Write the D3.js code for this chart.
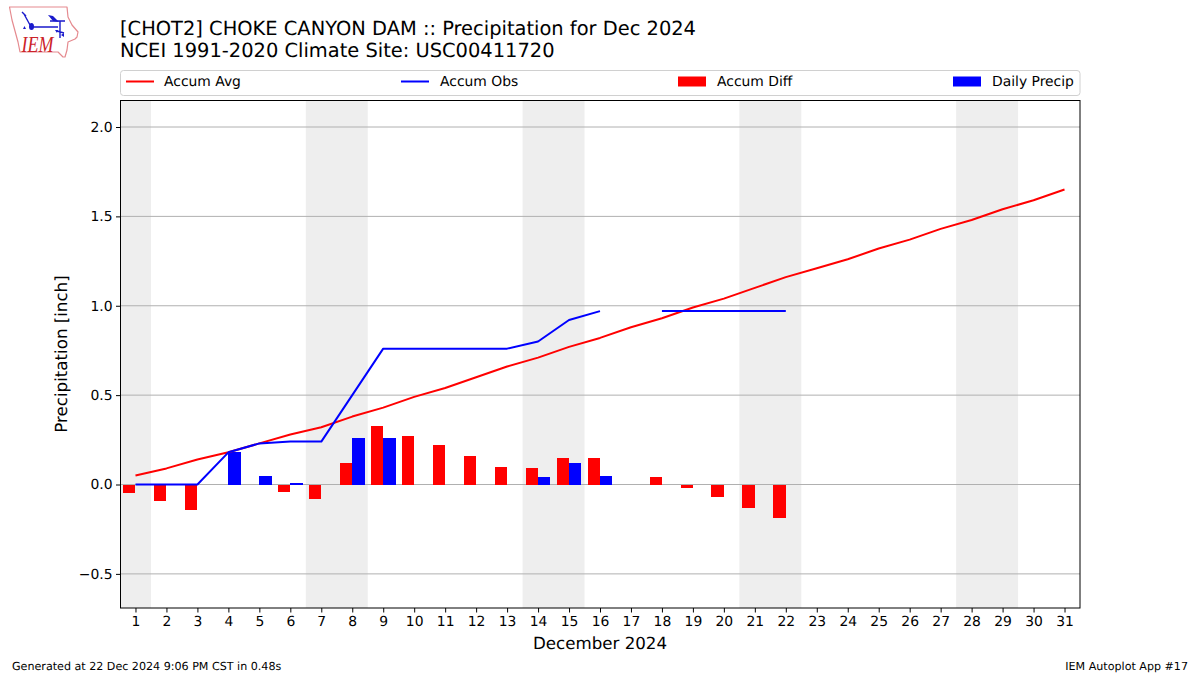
<!DOCTYPE html>
<html><head><meta charset="utf-8">
<script src="https://cdn.jsdelivr.net/npm/d3@7"></script>
<style>html,body{margin:0;padding:0;background:#fff}svg{display:block}text{font-family:"DejaVu Sans",sans-serif;fill:#000;text-rendering:geometricPrecision}</style>
</head><body><svg id="c" width="1200" height="675"></svg>
<script>
const days = d3.range(1, 32);
const accumAvg = [0.05,0.09,0.14,0.18,0.23,0.28,0.32,0.38,0.43,0.49,0.54,0.60,0.66,0.71,0.77,0.82,0.88,0.93,0.99,1.04,1.10,1.16,1.21,1.26,1.32,1.37,1.43,1.48,1.54,1.59,1.65];
const accumObs = [0,0,0,0.18,0.23,0.24,0.24,0.50,0.76,0.76,0.76,0.76,0.76,0.80,0.92,0.97,null,0.97,0.97,0.97,0.97,0.97];
const accumDiff = [-0.05,-0.09,-0.14,0,0,-0.04,-0.08,0.12,0.33,0.27,0.22,0.16,0.10,0.09,0.15,0.15,null,0.04,-0.02,-0.07,-0.13,-0.19];
const dailyPrecip = [0,0,0,0.18,0.05,0.01,0,0.26,0.26,0,0,0,0,0.04,0.12,0.05,null,0,0,0,0,0];
const weekends = [[0.5,1.5],[6.5,8.5],[13.5,15.5],[20.5,22.5],[27.5,29.5]];
const yTicks = [-0.5,0,0.5,1.0,1.5,2.0];
const titleLines = ["[CHOT2] CHOKE CANYON DAM :: Precipitation for Dec 2024","NCEI 1991-2020 Climate Site: USC00411720"];
const legendItems = [["Accum Avg","line","#ff0000"],["Accum Obs","line","#0000ff"],["Accum Diff","bar","#ff0000"],["Daily Precip","bar","#0000ff"]];

const L=120.5,R=1080,T=100.5,B=608;
const svg=d3.select("#c");
const x=d3.scaleLinear().domain([0.5,31.5]).range([120,1080]);
const y=d3.scaleLinear().domain([0,2]).range([484.5,127]);
const bw=x(1.4)-x(1);

svg.append("defs").append("clipPath").attr("id","pl").append("rect").attr("x",L).attr("y",T).attr("width",R-L).attr("height",B-T);
const plot=svg.append("g").attr("clip-path","url(#pl)");
plot.selectAll("rect.w").data(weekends).join("rect").attr("class","w")
  .attr("x",d=>x(d[0])).attr("width",d=>x(d[1])-x(d[0])).attr("y",T).attr("height",B-T).attr("fill","#eeeeee");
plot.selectAll("line.g").data(yTicks).join("line").attr("class","g")
  .attr("x1",L).attr("x2",R).attr("y1",d=>y(d)).attr("y2",d=>y(d)).attr("stroke","#b0b0b0").attr("stroke-width",1);
plot.selectAll("rect.d").data(accumDiff.map((v,i)=>({v,day:days[i]})).filter(d=>d.v)).join("rect").attr("class","d")
  .attr("x",d=>x(d.day)-bw).attr("width",bw).attr("y",d=>Math.min(y(d.v),y(0))).attr("height",d=>Math.abs(y(d.v)-y(0))).attr("fill","#ff0000").attr("shape-rendering","crispEdges");
plot.selectAll("rect.p").data(dailyPrecip.map((v,i)=>({v,day:days[i]})).filter(d=>d.v)).join("rect").attr("class","p")
  .attr("x",d=>x(d.day)).attr("width",bw).attr("y",d=>y(d.v)).attr("height",d=>y(0)-y(d.v)).attr("fill","#0000ff").attr("shape-rendering","crispEdges");
const line=d3.line().defined(d=>d!==null).x((d,i)=>x(days[i])).y(d=>y(d));
plot.append("path").attr("d",line(accumAvg)).attr("fill","none").attr("stroke","#ff0000").attr("stroke-width",2).attr("stroke-linejoin","round");
plot.append("path").attr("d",line(accumObs)).attr("fill","none").attr("stroke","#0000ff").attr("stroke-width",2).attr("stroke-linejoin","round");

svg.append("rect").attr("x",L).attr("y",T).attr("width",R-L).attr("height",B-T).attr("fill","none").attr("stroke","#000").attr("stroke-width",1);

const xa=svg.append("g").attr("transform",`translate(0,${B})`).call(d3.axisBottom(x).tickValues(days).tickFormat(d3.format("d")).tickSize(4.5).tickPadding(3.5));
const ya=svg.append("g").attr("transform",`translate(${L},0)`).call(d3.axisLeft(y).tickValues(yTicks).tickFormat(d=>(d<0?"\u2212":"")+Math.abs(d).toFixed(1)).tickSize(4.5).tickPadding(3.5));
[xa,ya].forEach(a=>{a.select(".domain").remove();a.selectAll("text").attr("font-size",13.9).style("font-family",'"DejaVu Sans"').attr("fill","#000");a.selectAll("line").attr("stroke","#000");});

svg.append("text").attr("x",600).attr("y",649).attr("text-anchor","middle").attr("font-size",16.67).text("December 2024");
svg.append("text").attr("transform","translate(67,354) rotate(-90)").attr("text-anchor","middle").attr("font-size",16.67).text("Precipitation [inch]");
titleLines.forEach((t,i)=>svg.append("text").attr("x",120).attr("y",35+i*22).attr("font-size",19.44).text(t));
svg.append("text").attr("x",12).attr("y",670).attr("font-size",11.11).text("Generated at 22 Dec 2024 9:06 PM CST in 0.48s");
svg.append("text").attr("x",1188).attr("y",670).attr("text-anchor","end").attr("font-size",11.11).text("IEM Autoplot App #17");

// legend
svg.append("rect").attr("x",L).attr("y",70.5).attr("width",R-L).attr("height",25).attr("rx",3).attr("fill","#fff").attr("stroke","#d0d0d0");
const legX=[126,401,678,953];
legendItems.forEach((d,i)=>{
  const g=svg.append("g").attr("transform",`translate(${legX[i]},81.5)`);
  if(d[1]==="line") g.append("line").attr("x1",0).attr("x2",28).attr("stroke",d[2]).attr("stroke-width",2);
  else g.append("rect").attr("x",0).attr("y",-5).attr("width",28).attr("height",10).attr("fill",d[2]);
  g.append("text").attr("x",i===0?38:39).attr("y",4.8).attr("font-size",13.89).text(d[0]);
});

// IEM logo
const logo=svg.append("g");
logo.append("path").attr("d","M9.5 7 L67 7 L68 17 L72 25 L78 32 L77 37 L75 39 L68 42 L67 50 L65 57 L63 57 L58 52 L20 52 L18 42 L12 20 Z").attr("fill","#fff").attr("stroke","#e58a8f").attr("stroke-width",1.2).attr("stroke-linejoin","round");
logo.append("path").attr("d","M22 12 L26 16 M24 14 L30 25 M31 27 L58 27 M50 21 L65 21 M60 21 L60 38 M57 31 L64 33").attr("fill","none").attr("stroke","#1a1acc").attr("stroke-width",1.4);
logo.append("ellipse").attr("cx",31.5).attr("cy",26.5).attr("rx",2.5).attr("ry",3.5).attr("fill","#1a1acc");
logo.append("path").attr("d","M48 15 L53 16 L59 22 L53 21 Z").attr("fill","#1a1acc");
logo.append("path").attr("d","M23 29 L26 29 L24.5 26 Z M55 30 L58 30 L57 33 Z M61 35 L64 33 L64 37 Z").attr("fill","#1a1acc");
logo.append("text").attr("x",21.5).attr("y",52).attr("font-size",23).attr("font-style","italic").attr("textLength",32).attr("lengthAdjust","spacingAndGlyphs").style("font-family",'"Liberation Serif"').style("fill","#cc2229").text("IEM");
</script></body></html>
